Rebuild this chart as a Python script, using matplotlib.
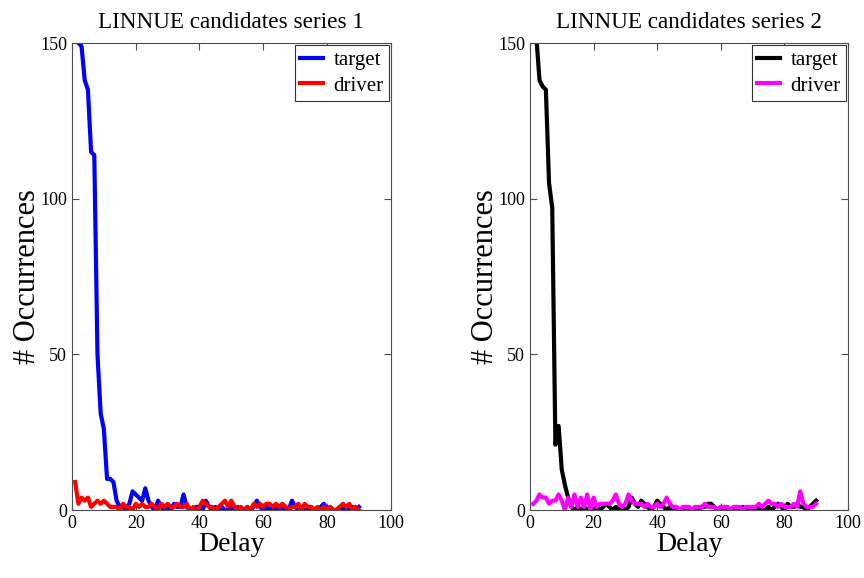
import matplotlib.pyplot as plt
import numpy as np

# --- Daten: Anzahl Vorkommen je Delay (1..90) ---
delay = np.arange(1, 91)

target_1 = [155, 150, 149, 138, 135, 115, 114, 50, 31, 26,
            10, 10, 9, 3, 1, 1, 0, 2, 6, 5,
            4, 3, 7, 3, 1, 0, 3, 1, 0, 1,
            0, 2, 1, 1, 5, 1, 0, 0, 1, 1,
            0, 3, 1, 0, 1, 0, 1, 0, 0, 1,
            0, 1, 0, 0, 1, 0, 1, 3, 1, 0,
            1, 0, 1, 0, 1, 0, 1, 0, 3, 1,
            0, 1, 0, 0, 1, 0, 0, 1, 2, 0,
            1, 0, 0, 1, 0, 1, 0, 1, 0, 1]
driver_1 = [9, 2, 4, 3, 4, 1, 2, 3, 2, 3,
            2, 1, 1, 1, 0, 2, 1, 1, 0, 2,
            1, 2, 1, 1, 2, 1, 0, 2, 1, 2,
            1, 1, 2, 1, 1, 2, 0, 1, 0, 1,
            3, 2, 1, 1, 0, 1, 2, 3, 1, 3,
            1, 0, 1, 0, 1, 0, 2, 1, 2, 1,
            2, 2, 1, 2, 1, 2, 1, 0, 1, 1,
            2, 0, 2, 1, 1, 0, 1, 0, 1, 0,
            1, 0, 0, 1, 2, 1, 2, 0, 1, 0]

target_2 = [200, 152, 138, 136, 135, 105, 97, 21, 27, 13,
            8, 4, 1, 0, 1, 0, 1, 0, 1, 0,
            1, 0, 1, 2, 1, 0, 1, 0, 1, 0,
            1, 4, 2, 1, 3, 2, 1, 0, 1, 3,
            2, 1, 0, 1, 0, 1, 0, 0, 1, 0,
            0, 1, 0, 1, 1, 2, 2, 1, 0, 1,
            0, 1, 0, 0, 1, 0, 1, 0, 0, 1,
            0, 1, 0, 0, 1, 0, 1, 2, 1, 0,
            2, 1, 1, 2, 1, 1, 0, 1, 2, 3]
driver_2 = [2, 3, 5, 4, 4, 2, 3, 3, 5, 3,
            0, 4, 1, 5, 1, 4, 1, 5, 0, 4,
            1, 2, 2, 2, 2, 3, 5, 2, 1, 2,
            5, 3, 2, 2, 2, 1, 2, 1, 1, 2,
            1, 2, 4, 2, 1, 1, 0, 1, 1, 1,
            0, 1, 1, 1, 2, 1, 1, 1, 0, 1,
            1, 1, 0, 1, 1, 1, 0, 1, 1, 1,
            1, 2, 1, 2, 3, 2, 2, 1, 2, 1,
            1, 1, 2, 1, 6, 2, 1, 1, 1, 2]

titles = ['LINNUE candidates series 1', 'LINNUE candidates series 2']
series = [(target_1, driver_1, 'blue', 'red'),
          (target_2, driver_2, 'black', 'magenta')]

plt.rcParams['font.family'] = 'Liberation Serif'

fig = plt.figure(figsize=(8.64, 5.78), dpi=100)
positions = [[0.0833, 0.1176, 0.369, 0.808],
             [0.6134, 0.1176, 0.368, 0.808]]

for pos, titel, (tgt, drv, c_t, c_d) in zip(positions, titles, series):
    ax = fig.add_axes(pos)
    ax.plot(delay, tgt, color=c_t, lw=3, label='target')
    ax.plot(delay, drv, color=c_d, lw=3, label='driver')
    ax.set_xlim(0, 100)
    ax.set_ylim(0, 150)
    ax.set_xticks([0, 20, 40, 60, 80, 100])
    ax.set_yticks([0, 50, 100, 150])
    ax.tick_params(direction='in', top=True, right=True, length=5,
                   labelsize=13, width=0.8, color='0.3')
    for s in ax.spines.values():
        s.set_color('0.3')
        s.set_linewidth(0.8)
    ax.set_title(titel, fontsize=16.7, pad=11)
    ax.set_xlabel('Delay', fontsize=20, labelpad=0)
    ax.set_ylabel('# Occurrences', fontsize=22, labelpad=-1.5)
    leg = ax.legend(loc='upper right', fontsize=15, fancybox=False,
                    edgecolor='0.2', framealpha=1, borderaxespad=0.1,
                    handlelength=1.1, handletextpad=0.5, borderpad=0.25,
                    labelspacing=0.3)
    leg.get_frame().set_linewidth(0.8)

fig.savefig('out.png', dpi=100)
